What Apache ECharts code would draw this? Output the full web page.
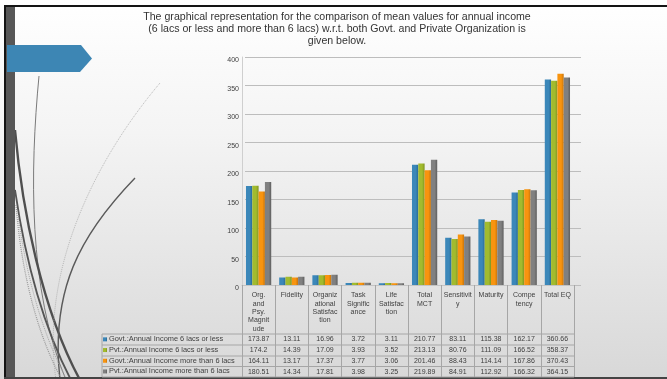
<!DOCTYPE html>
<html>
<head>
<meta charset="utf-8">
<script src="https://cdn.jsdelivr.net/npm/echarts@6/dist/echarts.min.js"></script>
<style>
  html, body { margin: 0; padding: 0; background: #fff; }
  #chart { width: 667px; height: 379px; }
</style>
</head>
<body>
<div id="chart"></div>
<script>
// Categories shown on the x axis (line breaks as wrapped in the table header)
const categories = [
  'Org.\nand\nPsy.\nMagnit\nude', 'Fidelity', 'Organiz\national\nSatisfac\ntion',
  'Task\nSignific\nance', 'Life\nSatisfac\ntion', 'Total\nMCT',
  'Sensitivit\ny', 'Maturity', 'Compe\ntency', 'Total EQ'
];

const seriesNames = [
  'Govt.:Annual Income 6 lacs or less',
  'Pvt.:Annual Income 6 lacs or less',
  'Govt.:Annual Income more than 6 lacs',
  'Pvt.:Annual Income more than 6 lacs'
];

// Mean values per group
const govtUpTo6  = [173.87, 13.11, 16.96, 3.72, 3.11, 210.77, 83.11, 115.38, 162.17, 360.66];
const pvtUpTo6   = [174.2, 14.39, 17.09, 3.93, 3.52, 213.13, 80.76, 111.09, 166.52, 358.37];
const govtAbove6 = [164.11, 13.17, 17.37, 3.77, 3.06, 201.46, 88.43, 114.14, 167.86, 370.43];
const pvtAbove6  = [180.51, 14.34, 17.81, 3.98, 3.25, 219.89, 84.91, 112.92, 166.32, 364.15];

// Value axis ticks
const yMin = 0, yMax = 400, yStep = 50;

const titleLines = [
  'The graphical representation for the comparison of mean values for annual income',
  '(6 lacs or less and more than 6 lacs) w.r.t. both Govt. and Private Organization is',
  'given below.'
];

const seriesData = [govtUpTo6, pvtUpTo6, govtAbove6, pvtAbove6];
const colors = ['#3b87b9', '#a2bb2e', '#f8940f', '#808080'];
const shades = ['#2a6a94', '#7f9520', '#c8740a', '#5e5e5e'];

const FONT = 'Liberation Sans';
const TEXT = '#404040';
const LINE = '#a6a6a6';

const chart = echarts.init(document.getElementById('chart'), null, { renderer: 'canvas' });

function barColor(i) {
  return new echarts.graphic.LinearGradient(0, 0, 1, 0, [
    { offset: 0, color: colors[i] },
    { offset: 0.6, color: colors[i] },
    { offset: 1, color: shades[i] }
  ]);
}

chart.setOption({
  animation: false,
  color: colors,
  textStyle: { fontFamily: FONT },
  grid: [
    { left: 242, right: 93, top: 57, bottom: 94, containLabel: false },
    { left: 245, right: 86, top: 57, bottom: 94, containLabel: false }
  ],
  legend: {
    orient: 'vertical',
    left: 103, top: 334,
    padding: 0,
    itemGap: 0,
    itemWidth: 4, itemHeight: 4,
    icon: 'rect',
    selectedMode: false,
    textStyle: { fontSize: 7.4, color: TEXT, lineHeight: 10.7, padding: [0, 0, 0, -3] },
    data: seriesNames
  },
  xAxis: [
    {
      type: 'category', gridIndex: 0, data: categories,
      axisLine: { lineStyle: { color: '#c4c4c4' } },
      axisTick: { show: true, length: 92, lineStyle: { color: LINE } },
      axisLabel: { interval: 0, fontSize: 7, lineHeight: 8.4, color: TEXT, margin: 6 },
      splitLine: { show: false }
    },
    {
      type: 'category', gridIndex: 1, data: categories, show: false
    }
  ],
  yAxis: [
    {
      type: 'value', gridIndex: 0, min: yMin, max: yMax, interval: yStep,
      axisLine: { show: true, lineStyle: { color: '#cfcfcf' } },
      axisTick: { show: false },
      axisLabel: { fontSize: 7, color: TEXT, margin: 3, verticalAlign: 'top' },
      splitLine: { show: false }
    },
    {
      type: 'value', gridIndex: 1, min: yMin, max: yMax, interval: yStep,
      axisLine: { show: false }, axisTick: { show: false }, axisLabel: { show: false },
      splitLine: { show: true, lineStyle: { color: '#bdbdbd', width: 1 } }
    }
  ],
  series: seriesData.map((d, i) => ({
    name: seriesNames[i],
    type: 'bar',
    xAxisIndex: 0, yAxisIndex: 0,
    data: d,
    barGap: '0%',
    barCategoryGap: '24%',
    itemStyle: { color: barColor(i) }
  }))
});

// Table cells and slide decoration, placed with the category axis scale
const rowTops = [334, 345, 356, 366.5, 377];
const graphics = [];

// slide background
graphics.push({
  type: 'rect', z: -100, silent: true,
  shape: { x: 0, y: 0, width: 667, height: 379 },
  style: { fill: new echarts.graphic.LinearGradient(0, 0, 0, 1, [
    { offset: 0, color: '#ffffff' }, { offset: 0.35, color: '#f4f4f4' }, { offset: 1, color: '#d8d8d8' }
  ]) }
});

// decorative swooshes on the left
const curves = [
  { s: [39, 76], c1: [30, 170], c2: [28, 290], e: [66, 380], w: 1, col: '#7a7a7a' },
  { s: [15, 130], c1: [22, 210], c2: [42, 310], e: [80, 380], w: 2.4, col: '#4f4f4f' },
  { s: [15, 190], c1: [26, 265], c2: [45, 330], e: [71, 380], w: 1.8, col: '#555555' },
  { s: [135, 178], c1: [80, 235], c2: [50, 290], e: [60, 380], w: 1.4, col: '#5a5a5a' },
  { s: [160, 83], c1: [95, 160], c2: [40, 270], e: [56, 380], w: 0.8, col: '#a8a8a8', dash: [1, 1] },
  { s: [16, 205], c1: [22, 280], c2: [40, 340], e: [62, 380], w: 1.2, col: '#9a9a9a', dash: [1, 1] },
  { s: [18, 215], c1: [28, 290], c2: [48, 345], e: [67, 380], w: 1, col: '#a5a5a5', dash: [1, 1] }
];
curves.forEach(cv => {
  graphics.push({
    type: 'bezierCurve', z: -50, silent: true,
    shape: { x1: cv.s[0], y1: cv.s[1], x2: cv.e[0], y2: cv.e[1],
             cpx1: cv.c1[0], cpy1: cv.c1[1], cpx2: cv.c2[0], cpy2: cv.c2[1] },
    style: { stroke: cv.col, lineWidth: cv.w, fill: null, lineDash: cv.dash || null }
  });
});

// frame bars
graphics.push({ type: 'rect', z: -40, silent: true, shape: { x: 6, y: 6, width: 9, height: 373 }, style: { fill: '#575757' } });
graphics.push({ type: 'rect', z: -39, silent: true, shape: { x: 4, y: 5, width: 663, height: 2 }, style: { fill: '#141414' } });
graphics.push({ type: 'rect', z: -39, silent: true, shape: { x: 4, y: 5, width: 2, height: 374 }, style: { fill: '#141414' } });
graphics.push({ type: 'rect', z: -39, silent: true, shape: { x: 4, y: 377, width: 663, height: 2 }, style: { fill: '#444444' } });

// chevron
graphics.push({
  type: 'polygon', z: -30, silent: true,
  shape: { points: [[7, 45], [81, 45], [92, 58.5], [80, 72], [7, 72]] },
  style: { fill: '#3d86b4' }
});

// title
titleLines.forEach((t, i) => {
  graphics.push({
    type: 'text', silent: true, x: 337, y: 17 + i * 12,
    style: { text: t, font: '10.6px "' + FONT + '"', fill: '#333333', align: 'center', verticalAlign: 'middle' }
  });
});

// table grid lines
rowTops.forEach(y => {
  graphics.push({ type: 'line', silent: true, shape: { x1: 102, y1: y, x2: 574, y2: y }, style: { stroke: LINE, lineWidth: 1 } });
});
graphics.push({ type: 'line', silent: true, shape: { x1: 102, y1: 334, x2: 102, y2: 377 }, style: { stroke: LINE, lineWidth: 1 } });

// table values
seriesData.forEach((arr, r) => {
  const yc = (rowTops[r] + rowTops[r + 1]) / 2;
  arr.forEach((v, c) => {
    const x = chart.convertToPixel({ xAxisIndex: 0 }, categories[c]);
    graphics.push({
      type: 'text', silent: true, x: x, y: yc,
      style: { text: String(v), font: '7px "' + FONT + '"', fill: TEXT, align: 'center', verticalAlign: 'middle' }
    });
  });
});

chart.setOption({ graphic: graphics });
</script>
</body>
</html>
